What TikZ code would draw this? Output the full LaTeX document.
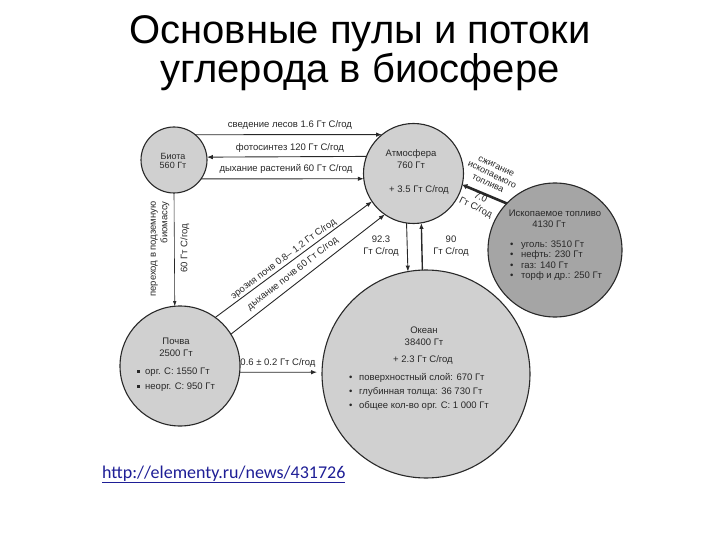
\documentclass[tikz,border=0pt]{standalone}
\usepackage{fontspec}
\setmainfont{Liberation Sans}
\newfontfamily\urlfont{Carlito}
\usetikzlibrary{arrows.meta}
\definecolor{poolgray}{RGB}{208,208,208}
\definecolor{fuelgray}{RGB}{165,165,165}
\definecolor{ink}{RGB}{40,40,40}
\definecolor{linkblue}{RGB}{30,30,150}
\begin{document}
\begin{tikzpicture}[x=1pt,y=-1pt,
  pool/.style={circle,draw=ink,line width=1.1pt,fill=poolgray,inner sep=0pt,outer sep=0pt},
  lbl/.style={font=\fontsize{9.5}{11.5}\selectfont,text=ink,inner sep=0pt,align=center},
  flow/.style={draw=ink,line width=0.9pt,-{Latex[length=6pt,width=4.5pt]}},
  titlefont/.style={font=\fontsize{40}{44}\selectfont,inner sep=0pt,anchor=base}]
\useasboundingbox[fill=white] (0,0) rectangle (720,540);

% title
\node[titlefont] (title1) at (360,44) {Основные пулы и потоки};
\node[titlefont] (title2) at (360,83) {углерода в биосфере};

% pools
\node[pool,minimum size=66pt] (bi) at (174,160) {};
\node[pool,minimum size=100pt] (at) at (413.5,173.5) {};
\node[pool,fill=fuelgray,minimum size=134pt] (fu) at (555,250) {};
\node[pool,minimum size=120pt] (po) at (180,366) {};
\node[pool,minimum size=208pt] (oc) at (426,374) {};

% pool texts
\node[lbl,font=\fontsize{9}{8.5}\selectfont] (tbi) at (173,161) {Биота\\560 Гт};
\node[lbl,font=\fontsize{9.5}{12}\selectfont] (tat) at (411,159) {Атмосфера\\760 Гт};
\node[lbl] (tat2) at (419,190) {+ 3.5 Гт С/год};
\node[lbl] (tfu) at (555,213) {Ископаемое топливо};
\node[lbl] (tfu2) at (549,224) {4130 Гт};
\node[lbl,align=left,anchor=west,font=\fontsize{9.5}{10.4}\selectfont] (tfu3) at (510,260.5)
  {\makebox[11pt][l]{\textbullet}уголь: 3510 Гт\\
   \makebox[11pt][l]{\textbullet}нефть: 230 Гт\\
   \makebox[11pt][l]{\textbullet}газ: 140 Гт\\
   \makebox[11pt][l]{\textbullet}торф и др.: 250 Гт};
\node[lbl,font=\fontsize{9.5}{12}\selectfont] (tpo) at (176,347) {Почва\\2500 Гт};
\node[lbl,align=left,anchor=west,font=\fontsize{9.5}{15}\selectfont] (tpo2) at (137,379.5)
  {\makebox[8pt][l]{\rule[1.5pt]{3pt}{3pt}}орг. С: 1550 Гт\\
   \makebox[8pt][l]{\rule[1.5pt]{3pt}{3pt}}неорг. С: 950 Гт};
\node[lbl,font=\fontsize{9.5}{12}\selectfont] (toc) at (424,336) {Океан\\38400 Гт};
\node[lbl] (toc2) at (423,360) {+ 2.3 Гт С/год};
\node[lbl,align=left,anchor=west,font=\fontsize{9.5}{14}\selectfont] (toc3) at (349,392)
  {\makebox[10pt][l]{\textbullet}поверхностный слой: 670 Гт\\
   \makebox[10pt][l]{\textbullet}глубинная толща: 36 730 Гт\\
   \makebox[10pt][l]{\textbullet}общее кол-во орг. С: 1 000 Гт};

% fluxes biota <-> atmosphere
\draw[flow] (bi.50) -- (at.129.6);
\draw[flow] (at.160.7) -- (bi.5.2);
\draw[flow] (bi.-35.15) -- (at.186.3);
\node[lbl] (l1) at (290,125) {сведение лесов 1.6 Гт С/год};
\node[lbl] (l2) at (290,148) {фотосинтез 120 Гт С/год};
\node[lbl] (l3) at (286,169) {дыхание растений 60 Гт С/год};

% biota -> soil
\draw[draw=ink,line width=0.6pt,-{Latex[length=5pt,width=3.5pt]}] (bi.south) -- (po.95.7);
\node[lbl,rotate=90,align=right] (l4) at (160,249) {переход в подземную\\биомассу};
\node[lbl,rotate=90] (l5) at (185,248) {60 Гт С/год};

% soil -> atmosphere
\draw[flow] (po.54.5) -- node[pos=0.46,sloped,above=1.5pt,lbl] (l6) {эрозия почв 0.8– 1.2 Гт С/год} (at.214.5);
\draw[flow] (po.32.6) -- node[pos=0.44,sloped,above=5pt,lbl] (l7) {дыхание почв 60 Гт С/год} (at.235.6);

% atmosphere <-> ocean
\draw[flow] (at.262.5) -- (oc.100.5);
\draw[flow,line width=1.4pt] (oc.92.2) -- (at.279.8);
\node[lbl] (l8) at (381,246) {92.3\\Гт С/год};
\node[lbl] (l9) at (451,246) {90\\Гт С/год};

% fossil fuel -> atmosphere
\draw[draw=ink,line width=2.6pt,-{Latex[length=5pt,width=6pt]}] (fu.136.2) -- (at.-13);
\node[lbl,rotate=-26,font=\fontsize{9}{9.5}\selectfont] (l10) at (492,175) {сжигание\\ископаемого\\топлива};
\node[lbl,rotate=-26,font=\fontsize{9.5}{11}\selectfont] (l11) at (478,203) {7.0\\Гт С/год};

% soil -> ocean
\draw[flow,shorten >=5pt] (po.-6.7) -- (oc.179.4);
\node[lbl] (l12) at (278,363) {0.6 ± 0.2 Гт С/год};

% source
\node[anchor=base west,inner sep=0pt,text=linkblue,font=\urlfont\fontsize{18}{20}\selectfont] (url) at (102,478) {\underline{http://elementy.ru/news/431726}};
\end{tikzpicture}
\end{document}
